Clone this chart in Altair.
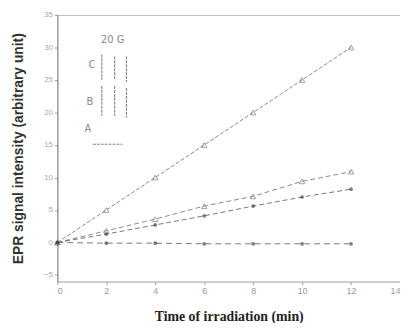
import altair as alt
import pandas as pd

time = [0, 2, 4, 6, 8, 10, 12]
series_c = [0.0, 5.0, 10.0, 15.0, 20.0, 25.0, 30.0]
series_b = [0.0, 1.8, 3.6, 5.6, 7.1, 9.4, 10.9]
series_a = [0.0, 1.3, 2.7, 4.1, 5.6, 7.0, 8.2]
series_0 = [0.0, -0.1, -0.1, -0.2, -0.2, -0.2, -0.2]
names = ["C", "B", "A2", "A"]

rows = []
for name, vals in zip(names, [series_c, series_b, series_a, series_0]):
    for t, v in zip(time, vals):
        rows.append({"time": t, "value": v, "series": name})
df = pd.DataFrame(rows)

x = alt.X("time:Q", scale=alt.Scale(domain=[0, 14], nice=False),
          axis=alt.Axis(values=[0, 2, 4, 6, 8, 10, 12, 14], title="Time of irradiation (min)",
                        titleFont="Liberation Serif", titleFontSize=14, titleFontWeight="bold",
                        titleColor="#222", labelColor="#999", labelFontSize=9, tickColor="#999",
                        domainColor="#bbb", grid=False, tickSize=3, titlePadding=14))
y = alt.Y("value:Q", scale=alt.Scale(domain=[-6, 35], nice=False),
          axis=alt.Axis(values=[-5, 0, 5, 10, 15, 20, 25, 30, 35],
                        title="EPR signal intensity (arbitrary unit)",
                        titleFont="Liberation Sans", titleFontSize=14, titleFontWeight="bold",
                        titleColor="#333", labelColor="#aaa", labelFontSize=8, tickColor="#999",
                        domainColor="#888", grid=False, tickSize=3, titlePadding=18))

color = alt.Color("series:N", scale=alt.Scale(domain=names, range=["#888", "#888", "#777", "#777"]), legend=None)
dash = alt.StrokeDash("series:N", scale=alt.Scale(domain=names, range=[[4, 2], [5, 3], [5, 3], [6, 4]]), legend=None)

lines = alt.Chart(df).mark_line(strokeWidth=1).encode(x=x, y=y, color=color, strokeDash=dash, detail="series:N")

open_pts = alt.Chart(df[df.series.isin(["C", "B"])]).mark_point(shape="triangle-up", filled=False, size=30, strokeWidth=1, color="#777").encode(x=x, y=y)
filled_pts = alt.Chart(df[df.series.isin(["A2", "A"])]).mark_point(shape="circle", filled=True, size=14, color="#444").encode(x=x, y=y)

inset_text = pd.DataFrame({"label": ["20 G", "C", "B", "A"],
                           "px": [56, 35, 33, 31], "py": [25, 51, 88, 116]})
insets = alt.Chart(inset_text).mark_text(font="DejaVu Sans", fontSize=10, color="#888").encode(
    x=alt.X("px:Q", scale=None), y=alt.Y("py:Q", scale=None), text="label:N")

spec_rows = pd.DataFrame({"x1": [45, 58, 70, 45, 58, 70, 36],
                          "x2": [45, 58, 70, 45, 58, 70, 66],
                          "y1": [40, 42, 42, 72, 72, 74, 131],
                          "y2": [66, 66, 68, 102, 102, 104, 131]})
spectra = alt.Chart(spec_rows).mark_rule(color="#888", strokeWidth=1.2, strokeDash=[3, 1]).encode(
    x=alt.X("x1:Q", scale=None), x2="x2:Q", y=alt.Y("y1:Q", scale=None), y2="y2:Q")

chart = alt.layer(lines, open_pts, filled_pts, spectra, insets).properties(
    width=347, height=270,
    autosize=alt.AutoSizeParams(type="none"),
    padding={"left": 50, "top": 5, "right": 0, "bottom": 40},
    background="white",
).configure_view(stroke="#bbb", strokeWidth=1)

chart.save("out.html", embed_options={"renderer": "svg", "actions": False})
